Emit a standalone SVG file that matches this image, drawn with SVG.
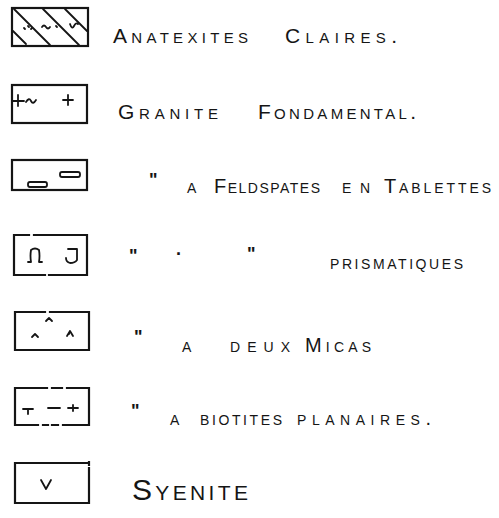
<svg xmlns="http://www.w3.org/2000/svg" width="499" height="518" viewBox="0 0 499 518">
<style>
.bx{fill:none;stroke:#151515;stroke-width:2.2;stroke-linecap:square}
.sy{fill:none;stroke:#151515;stroke-width:1.8;stroke-linecap:round;stroke-linejoin:round}
.t{font-family:"Liberation Sans",Arial,sans-serif;font-variant:small-caps;fill:#151515}
.q{font-family:"Liberation Sans",Arial,sans-serif;fill:#151515;font-size:18px;font-weight:bold}
</style>
<rect width="499" height="518" fill="#fff"/>

<g id="anatexites">
<rect class="bx" x="12" y="8" width="76" height="38"/>
<path class="sy" d="M14 9 L50 45 M43 9 L79 45 M65 9 L87 31 M13 31 L26 44"/>
<path class="sy" d="M24 28 l1 1 M28 26 l1 1 M31 29 l1 -1 M42 27 q2 -3 4 0 q2 3 4 0 M56 26 l1 1 M70 24 q2 6 4 2 q2 -4 4 -2"/>
<text class="t" x="113" y="43" font-size="21" textLength="135" lengthAdjust="spacing">Anatexites</text>
<text class="t" x="285" y="43" font-size="21" textLength="112" lengthAdjust="spacing">Claires.</text>
</g>

<g id="granite-fondamental">
<rect class="bx" x="12" y="85" width="75" height="38"/>
<path class="sy" d="M13 101 H24 M18 95 V106 M26 102 q3 -5 5 -1 q2 4 5 -1 M63 100 H73 M68 95 V105"/>
<text class="t" x="118" y="119" font-size="21" textLength="100" lengthAdjust="spacing">Granite</text>
<text class="t" x="258" y="119" font-size="21" textLength="158" lengthAdjust="spacing">Fondamental.</text>
</g>

<g id="feldspates-tablettes">
<rect class="bx" x="12" y="160" width="75" height="30"/>
<rect class="sy" x="28" y="182" width="19" height="5" rx="2"/>
<rect class="sy" x="60" y="172" width="20" height="5" rx="2"/>
<text class="q" x="149" y="186">"</text>
<text class="t" x="187" y="193" font-size="20">a</text>
<text class="t" x="214" y="193" font-size="20" textLength="106" lengthAdjust="spacing">Feldspates</text>
<text class="t" x="342" y="193" font-size="20" textLength="28" lengthAdjust="spacing">en</text>
<text class="t" x="384" y="193" font-size="20" textLength="107" lengthAdjust="spacing">Tablettes</text>
</g>

<g id="prismatiques">
<path class="bx" d="M14 235 H29 M34 235 H87 V275 H49 M45 275 H14 V235"/>
<path class="sy" d="M28 262 H31 Q30 256 31 250 Q35 247 39 250 Q40 256 39 262 H42"/>
<path class="sy" d="M68 249 H77 V260 Q75 263 70 263 Q66 262 66 258"/>
<text class="q" x="129" y="262">"</text>
<text class="q" x="176" y="255">.</text>
<text class="q" x="247" y="260">"</text>
<text class="t" x="330" y="269" font-size="20" textLength="133" lengthAdjust="spacing">prismatiques</text>
</g>

<g id="deux-micas">
<path class="bx" d="M15 312 H45 M50 312 H89 V350 H15 V312"/>
<path class="sy" d="M46 321 L49 318 L52 321 M32 337 L35 334 L38 337 M67 336 L70 331 L73 336 M70 331 L69 334"/>
<text class="q" x="134" y="343">"</text>
<text class="t" x="182" y="352" font-size="20">a</text>
<text class="t" x="230" y="352" font-size="20" textLength="60" lengthAdjust="spacing">deux</text>
<text class="t" x="305" y="352" font-size="20" textLength="66" lengthAdjust="spacing">Micas</text>
</g>

<g id="biotites-planaires">
<path class="bx" d="M15 388 H47 M52 388 H62 M67 388 H89 V425 H63 M58 425 H52 M48 425 H43 M38 425 H15 V388"/>
<path class="sy" d="M23 409 H33 M28 409 V414 M48 408 H60 M68 408 H78 M73 405 V411"/>
<text class="q" x="131" y="417">"</text>
<text class="t" x="170" y="425" font-size="20">a</text>
<text class="t" x="200" y="425" font-size="20" textLength="82" lengthAdjust="spacing">biotites</text>
<text class="t" x="297" y="425" font-size="20" textLength="134" lengthAdjust="spacing">planaires.</text>
</g>

<g id="syenite">
<path class="bx" d="M89 462 V465 M89 468 V503 H15 V463 H89"/>
<path class="sy" d="M41 480 L46 489 L51 480"/>
<text class="t" x="132" y="500" font-size="30" textLength="116" lengthAdjust="spacing">Syenite</text>
</g>
</svg>
